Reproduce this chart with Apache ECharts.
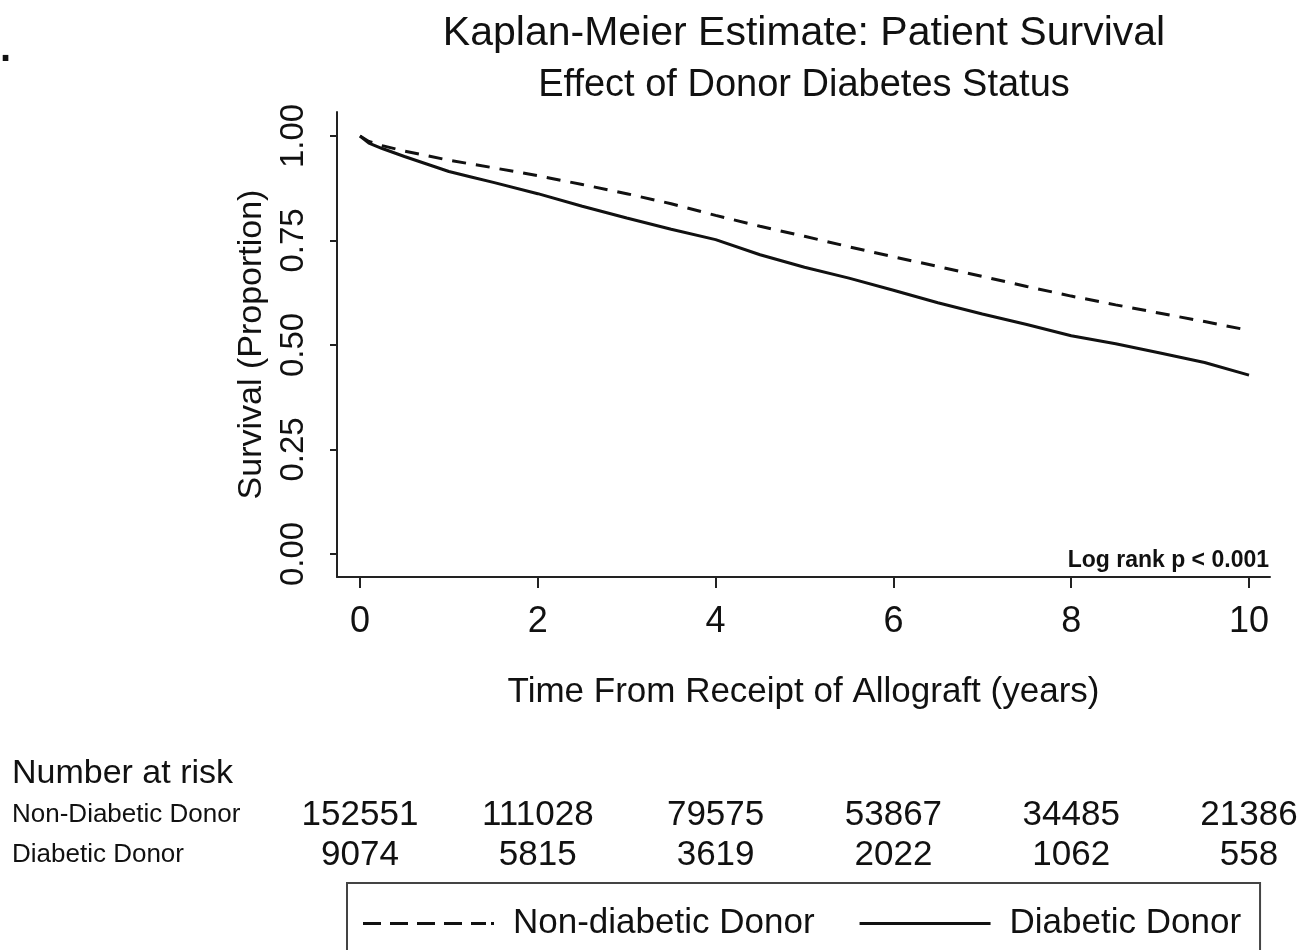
<!DOCTYPE html>
<html>
<head>
<meta charset="utf-8">
<script src="https://cdn.jsdelivr.net/npm/echarts@6/dist/echarts.min.js"></script>
<style>
  html, body { margin: 0; padding: 0; background: #fff; }
  #chart { width: 1316px; height: 950px; }
</style>
</head>
<body>
<div id="chart"></div>
<script>
// ---- Data ----
const times = [0, 0.1, 0.25, 0.5, 0.75, 1, 1.25, 1.5, 2, 2.5, 3, 3.5, 4, 4.5, 5, 5.5, 6, 6.5, 7, 7.5, 8, 8.5, 9, 9.5, 10];
const nonDiabeticSurvival = [1.0, 0.987, 0.977, 0.964, 0.953, 0.942, 0.933, 0.924, 0.905, 0.884, 0.862, 0.838, 0.810, 0.784, 0.760, 0.735, 0.711, 0.688, 0.664, 0.640, 0.617, 0.596, 0.576, 0.556, 0.535];
const diabeticSurvival = [1.0, 0.983, 0.970, 0.951, 0.933, 0.915, 0.902, 0.889, 0.862, 0.832, 0.804, 0.777, 0.752, 0.716, 0.686, 0.660, 0.631, 0.601, 0.574, 0.549, 0.522, 0.503, 0.481, 0.458, 0.428];

const xTicks = [0, 2, 4, 6, 8, 10];
const yTicks = [0, 0.25, 0.5, 0.75, 1.0];

const riskRows = ['Non-Diabetic Donor', 'Diabetic Donor'];
const riskTimes = [0, 2, 4, 6, 8, 10];
const riskNonDiabetic = [152551, 111028, 79575, 53867, 34485, 21386];
const riskDiabetic = [9074, 5815, 3619, 2022, 1062, 558];

const seriesNames = ['Non-diabetic Donor', 'Diabetic Donor'];

// ---- Chart ----
const SANS = "'Liberation Sans', Arial, sans-serif";
const X_MIN = -0.2587, X_MAX = 10.236;
const Y_MIN = -0.055, Y_MAX = 1.0574;

// legend sample icons (line samples drawn as thin bars)
const DASH_ICON = 'path://M0,0h18v3h-18z M27,0h18v3h-18z M54,0h18v3h-18z M81,0h18v3h-18z M108,0h15v3h-15z M128,0h3v3h-3z';
const SOLID_ICON = 'path://M0,0h131v3h-131z';

const chart = echarts.init(document.getElementById('chart'), null, { renderer: 'canvas' });

const riskLabel = {
  show: true, position: 'inside', formatter: p => String(p.value[2]),
  fontFamily: SANS, fontSize: 35, color: '#111', opacity: 1,
  textBorderWidth: 0, textBorderColor: 'transparent'
};

const option = {
  backgroundColor: '#ffffff',
  animation: false,
  title: [
    { text: '.', left: 0, top: 30, padding: 0, textStyle: { fontFamily: SANS, fontSize: 40, fontWeight: 'bold', color: '#111' } },
    { text: 'Kaplan-Meier Estimate: Patient Survival', left: 804, top: 13, padding: 0, textAlign: 'center',
      textStyle: { fontFamily: SANS, fontSize: 41, fontWeight: 'normal', color: '#111' } },
    { text: 'Effect of Donor Diabetes Status', left: 804, top: 67, padding: 0, textAlign: 'center',
      textStyle: { fontFamily: SANS, fontSize: 38, fontWeight: 'normal', color: '#111' } },
    { text: 'Log rank p < 0.001', right: 47, top: 549, padding: 0,
      textStyle: { fontFamily: SANS, fontSize: 23, fontWeight: 'bold', color: '#111' } },
    { text: 'Number at risk', left: 12, top: 757, padding: 0,
      textStyle: { fontFamily: SANS, fontSize: 34, fontWeight: 'normal', color: '#111' } }
  ],
  legend: {
    data: [
      { name: seriesNames[0], icon: DASH_ICON },
      { name: seriesNames[1], icon: SOLID_ICON }
    ],
    left: 347, top: 883,
    orient: 'horizontal',
    padding: [23, 19, 40, 16],
    itemWidth: 131, itemHeight: 3, itemGap: 45,
    itemStyle: { color: '#111', borderWidth: 0 },
    borderColor: '#444', borderWidth: 2, borderRadius: 0,
    textStyle: { fontFamily: SANS, fontSize: 35, color: '#111', padding: [0, 0, 0, 14] },
    selectedMode: false
  },
  grid: [
    { left: 337, top: 112, width: 933, height: 465, containLabel: false },
    { left: 337, top: 795, width: 933, height: 80, containLabel: false }
  ],
  xAxis: [
    {
      gridIndex: 0, type: 'value', min: X_MIN, max: X_MAX,
      name: 'Time From Receipt of Allograft (years)', nameLocation: 'middle', nameGap: 98,
      nameTextStyle: { fontFamily: SANS, fontSize: 35, color: '#111' },
      axisLine: { show: true, onZero: false, lineStyle: { color: '#222', width: 2 } },
      axisTick: { show: true, length: 11, customValues: xTicks, lineStyle: { color: '#222', width: 2 } },
      axisLabel: { show: true, customValues: xTicks, margin: 27, fontFamily: SANS, fontSize: 36, color: '#111' },
      splitLine: { show: false }
    },
    {
      gridIndex: 1, type: 'value', min: X_MIN, max: X_MAX, show: false
    }
  ],
  yAxis: [
    {
      gridIndex: 0, type: 'value', min: Y_MIN, max: Y_MAX,
      name: 'Survival (Proportion)', nameLocation: 'middle', nameGap: 67, nameRotate: 90,
      nameTextStyle: { fontFamily: SANS, fontSize: 34, color: '#111' },
      axisLine: { show: true, onZero: false, lineStyle: { color: '#222', width: 2 } },
      axisTick: { show: true, length: 7, customValues: yTicks, lineStyle: { color: '#222', width: 2 } },
      axisLabel: { show: true, customValues: yTicks, rotate: 90, margin: 27, fontFamily: SANS, fontSize: 33, color: '#111',
        formatter: v => v.toFixed(2) },
      splitLine: { show: false }
    },
    {
      gridIndex: 1, type: 'category', data: riskRows, inverse: true,
      axisLine: { show: false }, axisTick: { show: false }, splitLine: { show: false },
      axisLabel: { show: true, interval: 0, align: 'left', margin: 325, fontFamily: SANS, fontSize: 26, color: '#111',
        padding: [0, 0, 14, 0] }
    }
  ],
  series: [
    {
      name: seriesNames[0], type: 'line', xAxisIndex: 0, yAxisIndex: 0,
      data: times.map((t, i) => [t, nonDiabeticSurvival[i]]),
      symbol: 'none', showSymbol: false, smooth: false,
      lineStyle: { color: '#111', width: 3, type: [14, 10] },
      itemStyle: { color: '#111' },
      silent: true
    },
    {
      name: seriesNames[1], type: 'line', xAxisIndex: 0, yAxisIndex: 0,
      data: times.map((t, i) => [t, diabeticSurvival[i]]),
      symbol: 'none', showSymbol: false, smooth: false,
      lineStyle: { color: '#111', width: 3, type: 'solid' },
      itemStyle: { color: '#111' },
      silent: true
    },
    {
      name: 'riskNon', type: 'scatter', xAxisIndex: 1, yAxisIndex: 1,
      data: riskTimes.map((t, i) => [t, riskRows[0], riskNonDiabetic[i]]),
      symbolSize: 0, itemStyle: { color: '#111', opacity: 1 }, silent: true,
      labelLayout: { hideOverlap: false },
      label: riskLabel
    },
    {
      name: 'riskDia', type: 'scatter', xAxisIndex: 1, yAxisIndex: 1,
      data: riskTimes.map((t, i) => [t, riskRows[1], riskDiabetic[i]]),
      symbolSize: 0, itemStyle: { color: '#111', opacity: 1 }, silent: true,
      labelLayout: { hideOverlap: false },
      label: riskLabel
    }
  ]
};

chart.setOption(option);
</script>
</body>
</html>
